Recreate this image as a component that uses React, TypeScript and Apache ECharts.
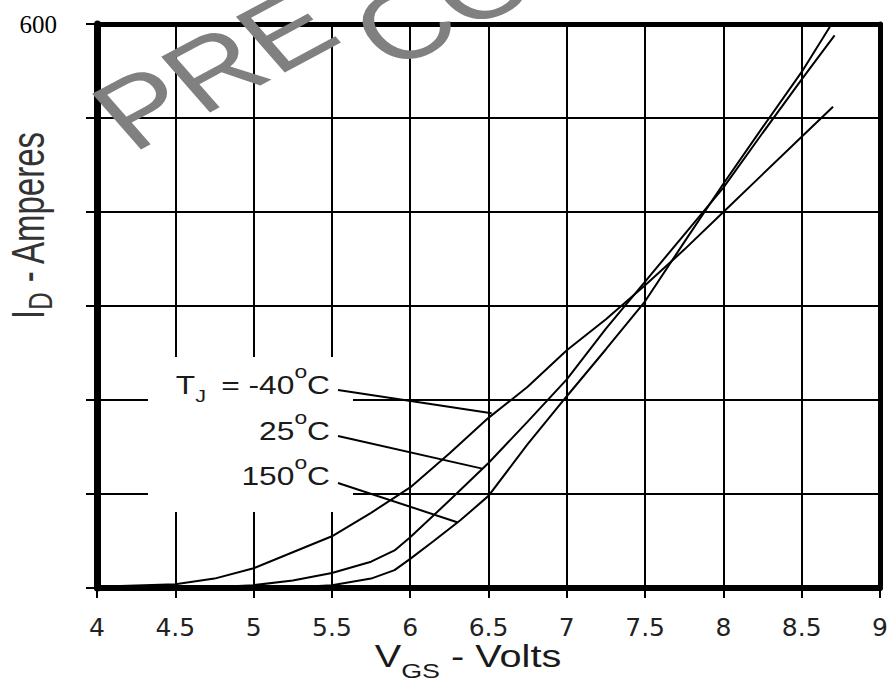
import React, { useEffect, useRef } from "react";
import * as echarts from "echarts";

// ---- data ----
const seriesNames = ["TJ = -40°C", "25°C", "150°C"];

const vgsMinus40 = [4.15, 4.5, 4.75, 5.0, 5.25, 5.5, 5.75, 6.0, 6.25, 6.5, 6.75, 7.0, 7.25, 7.5, 7.75, 8.0, 8.25, 8.5, 8.7];
const idMinus40 = [2, 4, 10, 21, 38, 55, 80, 107, 143, 181, 214, 253, 286, 322, 360, 400, 440, 480, 512];

const vgs25 = [4.7, 5.0, 5.25, 5.5, 5.75, 5.9, 6.0, 6.25, 6.5, 6.75, 7.0, 7.25, 7.5, 7.75, 8.0, 8.25, 8.5, 8.71];
const id25 = [0.5, 3, 8, 16, 28, 40, 54, 93, 133, 177, 222, 276, 326, 376, 426, 484, 541, 588];

const vgs150 = [5.3, 5.5, 5.75, 5.9, 6.0, 6.15, 6.32, 6.5, 6.75, 7.0, 7.25, 7.5, 7.75, 8.0, 8.25, 8.5, 8.68];
const id150 = [1, 3, 10, 19, 31, 50, 72, 98, 153, 204, 254, 305, 368, 430, 490, 549, 597];

const xMin = 4;
const xMax = 9;
const xStep = 0.5;
const yMin = 0;
const yMax = 600;
const yStep = 100;
const yLabelsShown = [600];

const SANS = "'Liberation Sans', Arial, Helvetica, sans-serif";
const INK = "#1a1a1a";

function pairs(xs: number[], ys: number[]) {
  return xs.map((x, i) => [x, ys[i]]);
}

function labelText(main: string, sup: string, tail: string, sub?: string) {
  return sub
    ? `{m|T}{s|${sub}}{m|${main}}{p|${sup}}{m|${tail}}`
    : `{m|${main}}{p|${sup}}{m|${tail}}`;
}

const labelRich = {
  m: { fontSize: 25, fontFamily: SANS, fill: INK, lineHeight: 46, verticalAlign: "top", padding: [12, 0, 0, 0] },
  s: { fontSize: 17, fontFamily: SANS, fill: INK, lineHeight: 46, verticalAlign: "top", padding: [26, 5, 0, 0] },
  p: { fontSize: 18, fontFamily: SANS, fill: INK, lineHeight: 46, verticalAlign: "top", padding: [1, 0, 0, 0] },
};

export default function App() {
  const ref = useRef<HTMLDivElement>(null);

  useEffect(() => {
    if (!ref.current) return;
    const chart = echarts.init(ref.current, undefined, { renderer: "svg" });

    const lineSeries = (name: string, xs: number[], ys: number[]) => ({
      type: "line",
      name,
      data: pairs(xs, ys),
      showSymbol: false,
      symbol: "none",
      smooth: false,
      silent: true,
      z: 3,
      lineStyle: { color: "#000", width: 2 },
    });

    const option: any = {
      animation: false,
      backgroundColor: "#ffffff",
      grid: { left: 97, right: 15, top: 24, bottom: 94, containLabel: false },
      xAxis: [
        {
          type: "value",
          min: xMin,
          max: xMax,
          interval: xStep,
          position: "bottom",
          axisLine: { show: true, onZero: false, lineStyle: { color: "#000", width: 6 } },
          axisTick: { show: true, length: 10, lineStyle: { color: "#000", width: 2 } },
          axisLabel: {
            margin: 27,
            fontFamily: "'DejaVu Sans', sans-serif",
            fontSize: 25,
            color: "#222",
            formatter: (v: number) => String(v),
          },
          splitLine: { show: true, lineStyle: { color: "#000", width: 2 } },
        },
        {
          type: "value",
          min: xMin,
          max: xMax,
          interval: xStep,
          position: "top",
          axisLine: { show: true, onZero: false, lineStyle: { color: "#000", width: 5 } },
          axisTick: { show: false },
          axisLabel: { show: false },
          splitLine: { show: false },
        },
      ],
      yAxis: [
        {
          type: "value",
          min: yMin,
          max: yMax,
          interval: yStep,
          position: "left",
          axisLine: { show: true, onZero: false, lineStyle: { color: "#000", width: 7 } },
          axisTick: { show: true, length: 11, lineStyle: { color: "#000", width: 2 } },
          axisLabel: {
            margin: 40,
            fontFamily: "'Liberation Serif', 'Times New Roman', serif",
            fontSize: 25,
            color: "#000",
            padding: [0, 0, 14, 0],
            formatter: (v: number) => (yLabelsShown.includes(v) ? String(v) : ""),
          },
          splitLine: { show: true, lineStyle: { color: "#000", width: 2 } },
        },
        {
          type: "value",
          min: yMin,
          max: yMax,
          interval: yStep,
          position: "right",
          axisLine: { show: true, onZero: false, lineStyle: { color: "#000", width: 5 } },
          axisTick: { show: false },
          axisLabel: { show: false },
          splitLine: { show: false },
        },
      ],
      series: [
        lineSeries(seriesNames[0], vgsMinus40, idMinus40),
        lineSeries(seriesNames[1], vgs25, id25),
        lineSeries(seriesNames[2], vgs150, id150),
      ],
    };

    chart.setOption(option);

    const px = (x: number, y: number) => chart.convertToPixel({ gridIndex: 0 }, [x, y]) as number[];
    const end40 = px(6.52, 186);
    const end25 = px(6.46, 127);
    const end150 = px(6.3, 70);

    const graphic: any[] = [
      // white panel behind the temperature labels
      { type: "rect", z: 1, shape: { x: 148, y: 357, width: 205, height: 155 }, style: { fill: "#fff" } },
      { type: "line", z: 4, shape: { x1: 338, y1: 390, x2: end40[0], y2: end40[1] }, style: { stroke: "#000", lineWidth: 2 } },
      { type: "line", z: 4, shape: { x1: 338, y1: 436, x2: end25[0], y2: end25[1] }, style: { stroke: "#000", lineWidth: 2 } },
      { type: "line", z: 4, shape: { x1: 338, y1: 483, x2: end150[0], y2: end150[1] }, style: { stroke: "#000", lineWidth: 2 } },
      {
        type: "group", x: 330, y: 361, scaleX: 1.27, z: 4,
        children: [{ type: "text", z: 4, style: { text: labelText(" = -40", "o", "C", "J"), rich: labelRich, align: "right", verticalAlign: "top" } }],
      },
      {
        type: "group", x: 330, y: 407, scaleX: 1.27, z: 4,
        children: [{ type: "text", z: 4, style: { text: labelText("25", "o", "C"), rich: labelRich, align: "right", verticalAlign: "top" } }],
      },
      {
        type: "group", x: 330, y: 452, scaleX: 1.27, z: 4,
        children: [{ type: "text", z: 4, style: { text: labelText("150", "o", "C"), rich: labelRich, align: "right", verticalAlign: "top" } }],
      },
      // x axis name
      {
        type: "group", x: 468, y: 631, scaleX: 1.28, z: 4,
        children: [{
          type: "text", z: 4,
          style: {
            text: "{m|V}{s|GS}{m| - Volts}",
            align: "center", verticalAlign: "top",
            rich: {
              m: { fontSize: 31, fontFamily: SANS, fill: INK, lineHeight: 50, verticalAlign: "top", padding: [10, 0, 0, 0] },
              s: { fontSize: 21, fontFamily: SANS, fill: INK, lineHeight: 50, verticalAlign: "top", padding: [29, 0, 0, 0] },
            },
          },
        }],
      },
      // y axis name
      {
        type: "group", x: 29, y: 225, scaleX: 1.4, z: 4,
        children: [{
          type: "text", z: 4, rotation: Math.PI / 2,
          style: {
            text: "{m|I}{s|D}{m| - Amperes}",
            align: "center", verticalAlign: "middle",
            rich: {
              m: { fontSize: 33, fontFamily: SANS, fill: "#333", lineHeight: 50, verticalAlign: "top", padding: [8, 0, 0, 0] },
              s: { fontSize: 24, fontFamily: SANS, fill: "#333", lineHeight: 50, verticalAlign: "top", padding: [21, 0, 0, 0] },
            },
          },
        }],
      },
      // watermark
      {
        type: "group", x: 108, y: 126, scaleX: 1.28, z: 50,
        children: [{ type: "text", z: 50, rotation: 0.6, style: { text: "PRE", fontSize: 98, fontFamily: SANS, fill: "#808080", align: "left", verticalAlign: "middle" } }],
      },
      {
        type: "group", x: 367, y: 45, scaleX: 1.28, z: 50,
        children: [{ type: "text", z: 50, rotation: 0.6, style: { text: "CO", fontSize: 98, fontFamily: SANS, fill: "#808080", align: "left", verticalAlign: "middle" } }],
      },
    ];

    chart.setOption({ graphic });

    return () => chart.dispose();
  }, []);

  return (
    <div
      ref={ref}
      style={{ position: "fixed", left: 0, top: 0, width: 895, height: 682, background: "#fff" }}
    />
  );
}
